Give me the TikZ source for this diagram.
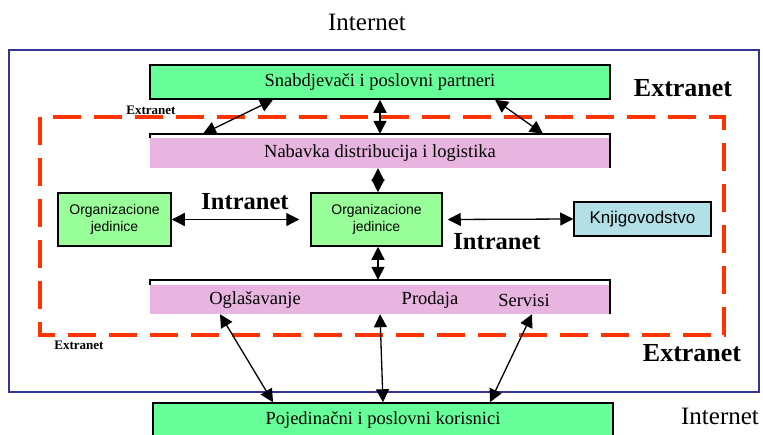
\documentclass[tikz,border=0pt]{standalone}
\usepackage{fontspec}
\setmainfont{Liberation Serif}
\newfontfamily\arialfont{Liberation Sans}
\usetikzlibrary{arrows.meta}
\definecolor{gA}{RGB}{102,255,153}
\definecolor{gB}{RGB}{153,255,153}
\definecolor{pinkc}{RGB}{232,180,224}
\definecolor{bluec}{RGB}{51,51,153}
\definecolor{redc}{RGB}{255,51,0}
\definecolor{knjc}{RGB}{178,224,230}
\tikzset{
  box/.style={draw=black, line width=1.5pt, inner sep=0pt, font=\fontsize{18.5}{20}\selectfont},
  pinkbox/.style={fill=pinkc, inner sep=0pt, font=\fontsize{18.5}{20}\selectfont},
  orgbox/.style={draw=black, line width=1.5pt, fill=gB, inner sep=0pt, align=center, font=\arialfont\fontsize{14}{17}\selectfont},
  dbl/.style={line width=1.3pt, {Triangle[length=13pt,width=13pt]}-{Triangle[length=13pt,width=13pt]}},
  bigl/.style={font=\bfseries\fontsize{26}{28}\selectfont, inner sep=0pt},
  intl/.style={font=\bfseries\fontsize{24.5}{26}\selectfont, inner sep=0pt},
  smalll/.style={font=\bfseries\fontsize{13}{14}\selectfont, inner sep=0pt},
  inetl/.style={font=\fontsize{25}{27}\selectfont, inner sep=0pt},
  itemt/.style={inner sep=0pt, font=\fontsize{18.5}{20}\selectfont},
}
\begin{document}
\begin{tikzpicture}[x=1pt,y=-1pt]
\useasboundingbox (0,0) rectangle (763,434);
\clip (0,0) rectangle (763,434);
% outer internet frame
\draw[bluec, line width=2pt] (9,50) rectangle (759,392);
% extranet dashed frame
\draw[redc, line width=3.2pt, dash pattern=on 28pt off 13pt] (40,117) rectangle (724,335);
% labels
\node[inetl] (inet1) at (367,22) {Internet};
\node[inetl] (inet2) at (720,416) {Internet};
\node[bigl] (ext1) at (683,88) {Extranet};
\node[bigl] (ext2) at (692,353) {Extranet};
\node[smalll] (ext3) at (151,110) {Extranet};
\node[smalll] (ext4) at (79,345) {Extranet};
\node[intl] (int1) at (245,202) {Intranet};
\node[intl] (int2) at (497,242) {Intranet};
% boxes
\node[box, fill=gA, minimum width=460pt, minimum height=34pt] (snab) at (380,82) {Snabdjeva\v{c}i i poslovni partneri};
\node[pinkbox, minimum width=460pt, minimum height=30pt] (nab) at (380,153) {Nabavka distribucija i logistika};
\draw[line width=1.5pt] (150,138) |- (610,134) -- (610,168);
\node[orgbox, minimum width=113pt, minimum height=53pt] (orgL) at (114.5,219.5) {Organizacione\\jedinice};
\node[orgbox, minimum width=131pt, minimum height=53pt] (org) at (376.5,219.5) {Organizacione\\jedinice};
\node[box, fill=knjc, minimum width=137pt, minimum height=34pt, font=\arialfont\fontsize{17}{19}\selectfont] (knj) at (642.5,219) {Knjigovodstvo};
\node[pinkbox, minimum width=460pt, minimum height=29pt] (sales) at (380,299.5) {};
\draw[line width=1.5pt] (150,285) |- (610,280) -- (610,314);
\node[itemt] (ogl) at (255,300) {Ogla\v{s}avanje};
\node[itemt] (prod) at (430,300) {Prodaja};
\node[itemt] (serv) at (524,300) {Servisi};
\node[box, fill=gA, minimum width=460pt, minimum height=34pt] (poj) at (383,420) {Pojedina\v{c}ni i poslovni korisnici};
% connectors
\draw[dbl] ([xshift=-107pt]snab.south) -- ([xshift=-177pt,yshift=4pt]nab.north);
\draw[dbl] (snab.south) -- ([yshift=4pt]nab.north);
\draw[dbl] ([xshift=115pt]snab.south) -- ([xshift=163pt,yshift=4pt]nab.north);
\draw[dbl] ([xshift=-2pt]nab.south) -- ([xshift=1.5pt]org.north);
\draw[dbl] (orgL.east) -- ([xshift=-11pt]org.west);
\draw[dbl] ([xshift=5pt]org.east) -- (knj.west);
\draw[dbl] ([xshift=1.5pt]org.south) -- ([xshift=-2pt,yshift=5pt]sales.north);
\draw[dbl] ([xshift=-160pt]sales.south) -- ([xshift=-110pt]poj.north);
\draw[dbl] (sales.south) -- (poj.north);
\draw[dbl] ([xshift=152pt]sales.south) -- ([xshift=107pt]poj.north);
\end{tikzpicture}
\end{document}
